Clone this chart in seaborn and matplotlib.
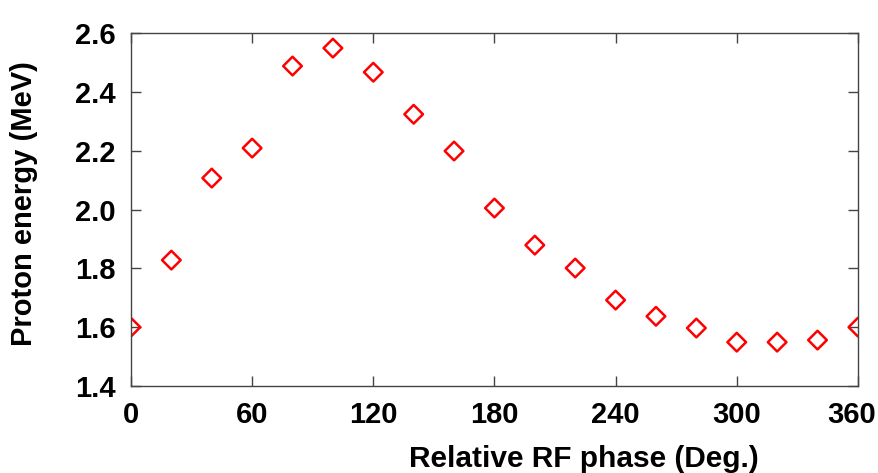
import pandas as pd
import matplotlib
matplotlib.use("Agg")
import matplotlib.pyplot as plt
import matplotlib.transforms as mtransforms
import seaborn as sns

# Data
phase = [0, 20, 40, 60, 80, 100, 120, 140, 160, 180,
         200, 220, 240, 260, 280, 300, 320, 340, 360]
energy = [1.60, 1.828, 2.107, 2.209, 2.488, 2.549, 2.467, 2.324, 2.199, 2.005,
          1.879, 1.801, 1.692, 1.637, 1.597, 1.549, 1.549, 1.556, 1.60]
x_ticks = [0, 60, 120, 180, 240, 300, 360]
y_ticks = [1.4, 1.6, 1.8, 2.0, 2.2, 2.4, 2.6]

data = pd.DataFrame({"phase": phase, "energy": energy})

sns.set_style("ticks")
plt.rcParams["font.family"] = ["Liberation Sans", "DejaVu Sans"]
plt.rcParams["font.weight"] = "bold"
plt.rcParams["text.color"] = "black"
plt.rcParams["axes.labelcolor"] = "black"

fig = plt.figure(figsize=(8.79, 4.73), dpi=100)
ax = fig.add_axes([0.149, 0.184, 0.827, 0.746])

sns.scatterplot(data=data, x="phase", y="energy", marker="D", s=90,
                facecolors="none", edgecolor="red", linewidth=1.8, ax=ax)

ax.set_xlim(0, 360)
ax.set_ylim(1.4, 2.6)
ax.set_xticks(x_ticks)
ax.set_yticks(y_ticks)
ax.set_yticklabels([f"{v:.1f}" for v in y_ticks])
ax.tick_params(direction="in", length=7, width=1, color="#444444",
               labelcolor="black", top=True, right=True, labelsize=21, pad=11)
for lbl in ax.get_xticklabels() + ax.get_yticklabels():
    lbl.set_fontweight("bold")
# last x label sits a little left of its tick so it stays inside the figure
last = ax.get_xticklabels()[-1]
last.set_transform(last.get_transform() +
                   mtransforms.ScaledTranslation(-6 / 100, 0, fig.dpi_scale_trans))
for sp in ax.spines.values():
    sp.set_visible(True)
    sp.set_color("#444444")
    sp.set_linewidth(1)

ax.set_xlabel("Relative RF phase (Deg.)", fontsize=21.5, fontweight="bold")
ax.set_ylabel("Proton energy (MeV)", fontsize=21, fontweight="bold")
ax.xaxis.set_label_coords(0.623, -0.168)
ax.yaxis.set_label_coords(-0.128, 0.518)

fig.savefig("out.png", dpi=100)
